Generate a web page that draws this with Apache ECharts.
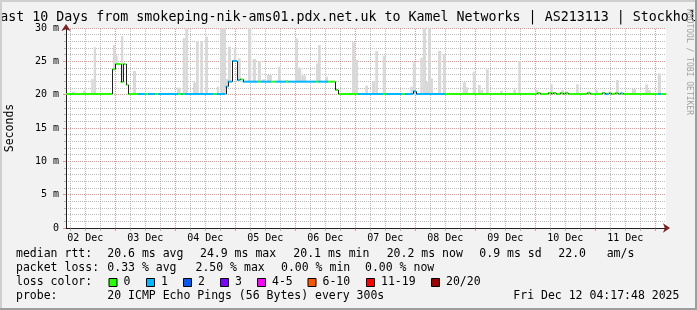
<!DOCTYPE html>
<html><head><meta charset="utf-8">
<script src="https://cdn.jsdelivr.net/npm/echarts@6/dist/echarts.min.js"></script>
<style>html,body{margin:0;padding:0;background:#f2f2f2;}#c{width:697px;height:310px;}</style>
</head><body><div id="c"></div>
<script>
// x values are hours since 2025-12-02 00:00
const startHour = 4.2967;   // Dec 02 04:17:48
const endHour = 244.2967;   // Dec 12 04:17:48
const dayLabels = ['02 Dec','03 Dec','04 Dec','05 Dec','06 Dec','07 Dec','08 Dec','09 Dec','10 Dec','11 Dec'];
const dayLabelHours = [12,36,60,84,108,132,156,180,204,228];
const yUnitLabel = ' m';

// median rtt (ms), segment start hour and packet-loss class
const medStart = [4.3,22.8,24.0,26.2,27.2,28.2,29.0,33.1,35.9,36.9,39.9,40.9,49.1,50.3,51.1,51.9,63.4,64.5,68.1,69.0,70.7,72.7,73.9,75.0,81.1,82.0,86.4,88.0,92.3,93.1,104.3,105.1,109.1,112.0,113.1,121.1,131.1,132.3,138.7,139.9,143.1,144.3,155.9,192.7,193.9,197.1,198.4,199.0,200.3,201.9,203.0,204.0,205.1,212.7,213.9,218.7,219.9,221.4,222.2,224.0,225.1,226.0,227.0,241.0,242.3];
const medValue = [20.1,23.8,24.6,21.9,24.6,21.5,20.1,20.1,20.1,20.1,20.1,20.1,20.1,20.1,20.1,20.1,20.1,20.1,21.2,21.95,25.05,22.2,22.3,21.95,21.95,21.95,21.95,21.95,21.95,21.95,21.95,21.95,21.95,20.7,20.1,20.1,20.1,20.1,20.1,20.1,20.5,20.1,20.1,20.25,20.1,20.25,20.1,20.25,20.1,20.25,20.1,20.25,20.1,20.25,20.1,20.25,20.1,20.25,20.1,20.25,20.1,20.2,20.1,20.1,20.1];
const medLoss = [0,0,0,0,0,0,0,1,0,1,0,1,0,1,0,1,0,1,1,1,1,1,0,1,0,1,0,1,0,1,0,1,0,0,0,1,0,1,0,1,1,1,0,0,0,0,0,0,0,0,0,0,0,0,0,0,1,0,0,0,0,1,0,1,0];

// smoke (spread of the pings): start hour, end hour, max rtt (ms)
const smokeStart = [6.7,11.1,14.4,15.4,23.1,24.0,26.3,31.1,48.7,51.0,52.0,55.1,56.3,58.0,60.0,64.6,66.0,68.3,69.1,71.4,73.1,77.1,79.0,81.0,82.7,84.7,89.1,92.0,96.0,97.1,98.4,104.3,105.1,108.0,118.7,120.0,124.0,126.7,128.0,131.0,142.0,143.0,146.0,147.0,148.3,149.1,150.2,153.1,155.1,163.0,164.3,167.0,169.1,170.2,172.3,178.0,183.2,185.2,192.0,198.0,202.4,204.0,208.3,213.1,216.0,221.4,224.3,230.7,236.0,237.1,241.0];
const smokeEnd = [8.0,12.3,15.4,16.3,24.0,25.0,27.2,32.3,50.2,52.0,53.1,56.3,57.4,59.1,61.1,65.6,68.3,69.1,70.3,72.4,74.2,78.4,80.3,82.3,84.0,86.7,90.3,93.1,97.1,98.4,100.3,105.1,106.2,109.1,120.0,121.1,125.1,128.0,129.1,132.3,143.0,144.3,147.0,148.3,149.1,150.2,151.1,154.4,156.3,164.3,165.1,168.3,170.2,171.2,173.4,179.0,184.3,186.2,193.1,199.0,203.4,205.1,209.4,214.2,217.1,222.4,225.4,232.3,237.1,238.2,242.3];
const smokeTop = [20.45,20.6,22.35,27.1,27.45,25.9,28.8,23.55,21.05,28.5,30.5,21.85,28.05,28.05,28.7,21.2,30.5,22.35,27.2,27.0,25.45,30.5,25.35,25.05,22.3,22.95,24.2,22.2,28.45,24.05,22.9,24.7,27.45,22.7,27.85,25.2,21.35,22.05,26.55,25.85,21.2,24.85,25.55,30.5,21.9,30.5,22.45,26.55,26.05,21.85,21.1,23.45,21.45,20.7,23.8,20.6,20.8,25.05,20.7,21.55,20.7,20.5,21.55,20.5,20.7,20.5,22.2,20.85,21.55,20.7,23.2];

// legend
const lossColors = ['#26ff00','#00b8ff','#0059ff','#7e00ff','#ff00ff','#ff5500','#ff0000','#a10000'];
const lossLabels = ['0','1','2','3','4-5','6-10','11-19','20/20'];
const rttStats = ['20.6 ms avg','24.9 ms max','20.1 ms min','20.2 ms now','0.9 ms sd','22.0','am/s'];
const lossStats = ['0.33 % avg','2.50 % max','0.00 % min','0.00 % now'];
const titleText = 'Last 10 Days from smokeping-nik-ams01.pdx.net.uk to Kamel Networks | AS213113 | Stockholm';
const probeText = '20 ICMP Echo Pings (56 Bytes) every 300s';
const dateText = 'Fri Dec 12 04:17:48 2025';

const MONO = '"DejaVu Sans Mono", monospace';
const GRIDC = 'rgba(143,143,143,0.6)';
const MGRIDC = 'rgba(222,79,79,0.6)';

function medianAt(h){
  let v = medValue[0];
  for (let i = 0; i < medStart.length; i++) { if (medStart[i] <= h) v = medValue[i]; }
  return v;
}
const medData = medStart.map((s,i)=>[s, i+1<medStart.length?medStart[i+1]:endHour, medValue[i], medLoss[i], i>0?medValue[i-1]:medValue[i]]);
const smokeData = smokeStart.map((s,i)=>[s, smokeEnd[i], medianAt(s)-0.1, smokeTop[i]]);
const vGrid = [];
for (let h = 6; h < endHour; h += 6) if (h > startHour) vGrid.push([h, h % 24 === 0 ? 1 : 0]);
const labelData = dayLabelHours.map(h=>[h,0]);

function renderVGrid(params, api){
  const h = api.value(0), major = api.value(1) === 1;
  const p0 = api.coord([h,0]), p1 = api.coord([h,30]);
  const x = Math.round(p0[0]) + 0.5;
  const col = major ? MGRIDC : GRIDC;
  return {type:'group', children:[
    {type:'line', shape:{x1:x,y1:p0[1],x2:x,y2:p1[1]}, style:{stroke:col,lineWidth:1,lineDash:[1,1]}},
    {type:'line', shape:{x1:x,y1:p0[1],x2:x,y2:p0[1]+3}, style:{stroke:col,lineWidth:1}}
  ]};
}
function renderSmoke(params, api){
  const a = api.coord([api.value(0), Math.min(api.value(3), 30)]);
  const b = api.coord([api.value(1), api.value(2)]);
  return {type:'rect', shape:{x:a[0],y:a[1],width:b[0]-a[0],height:b[1]-a[1]}, style:{fill:'#d9d9d9'}};
}
function renderMedian(params, api){
  const h0=api.value(0), h1=api.value(1), v=api.value(2), loss=api.value(3), pv=api.value(4);
  const a=api.coord([h0,v]), b=api.coord([h1,v]);
  const ch=[{type:'rect', shape:{x:a[0],y:a[1]-1,width:b[0]-a[0],height:2}, style:{fill:lossColors[loss]}}];
  if (pv !== v) {
    const q=api.coord([h0,pv]); const x=Math.round(a[0])+0.5;
    ch.push({type:'line', shape:{x1:x,y1:q[1],x2:x,y2:a[1]}, style:{stroke:'#202020',lineWidth:1}});
  }
  return {type:'group', children:ch};
}
function renderLabel(params, api){
  const p = api.coord([api.value(0), 0]);
  return {type:'text', x:p[0], y:p[1]+10, style:{text:dayLabels[params.dataIndex], font:'10px '+MONO, fill:'#000', align:'center', verticalAlign:'middle'}};
}

function txt(x, y, t, extra){
  return Object.assign({type:'text', x:x, y:y, silent:true, style:{text:t, font:'11.5px '+MONO, fill:'#000', align:'left', verticalAlign:'middle'}}, extra||{});
}
const graphics = [];
graphics.push(txt(348.5, 18, titleText, {style:{text:titleText, font:'13.3px '+MONO, fill:'#000', align:'center', verticalAlign:'middle'}}));
graphics.push(txt(10.5, 128, 'Seconds', {rotation:Math.PI/2, style:{text:'Seconds', font:'11.5px '+MONO, fill:'#000', align:'center', verticalAlign:'middle'}}));
graphics.push(txt(689, 62, 'RRDTOOL / TOBI OETIKER', {rotation:-Math.PI/2, style:{text:'RRDTOOL / TOBI OETIKER', font:'8px '+MONO, fill:'#a0a0a0', align:'center', verticalAlign:'middle'}}));
const L1=254.5, L2=268.5, L3=282.5, L4=296.5;
graphics.push(txt(16, L1, 'median rtt:'));
[107.3,200,293.3,386.7,479.3,558.3,606.7].forEach((x,i)=>graphics.push(txt(x, L1, rttStats[i])));
graphics.push(txt(16, L2, 'packet loss:'));
[107.3,195.5,281,365].forEach((x,i)=>graphics.push(txt(x, L2, lossStats[i])));
graphics.push(txt(16, L3, 'loss color:'));
[108.5,146,183,220,257,307.5,366,431].forEach((x,i)=>{
  graphics.push({type:'rect', silent:true, shape:{x:x+0.5,y:278.5,width:8,height:8}, style:{fill:lossColors[i], stroke:'#000', lineWidth:1}});
  graphics.push(txt(x+15, L3, lossLabels[i]));
});
graphics.push(txt(16, L4, 'probe:'));
graphics.push(txt(107.3, L4, probeText));
graphics.push(txt(513.3, L4, dateText));
// frame
graphics.push({type:'rect', silent:true, z:100, shape:{x:0,y:0,width:697,height:2}, style:{fill:'#cfcfcf'}});
graphics.push({type:'rect', silent:true, z:100, shape:{x:0,y:0,width:2,height:310}, style:{fill:'#cfcfcf'}});
graphics.push({type:'rect', silent:true, z:100, shape:{x:0,y:308,width:697,height:2}, style:{fill:'#9e9e9e'}});
graphics.push({type:'rect', silent:true, z:100, shape:{x:695,y:0,width:2,height:310}, style:{fill:'#9e9e9e'}});

const chart = echarts.init(document.getElementById('c'), null, {renderer:'canvas'});
chart.setOption({
  animation:false,
  backgroundColor:'#f2f2f2',
  grid:{left:66, top:28, width:600, height:200, show:true, backgroundColor:'#ffffff', borderWidth:0},
  xAxis:[
    {type:'value', min:startHour, max:endHour, position:'bottom',
     axisLine:{show:true, lineStyle:{color:'#1f1f1f', width:1}},
     axisTick:{show:false}, axisLabel:{show:false}, splitLine:{show:false}},
    {type:'value', min:startHour, max:endHour, position:'bottom',
     axisLine:{show:true, lineStyle:{color:'#801f1f', width:0}, symbol:['none','arrow'], symbolSize:[7,7], symbolOffset:[0,4]},
     axisTick:{show:false}, axisLabel:{show:false}, splitLine:{show:false}}
  ],
  yAxis:[
    {type:'value', min:0, max:30, interval:5, position:'left',
     axisLine:{show:true, lineStyle:{color:'#1f1f1f', width:1}},
     axisTick:{show:true, length:3, lineStyle:{color:MGRIDC}},
     minorTick:{show:true, splitNumber:5, length:2, lineStyle:{color:GRIDC}},
     axisLabel:{margin:7, fontFamily:'DejaVu Sans Mono', fontSize:10, color:'#000', formatter:v=>v===0?'0':v+yUnitLabel},
     splitLine:{show:true, lineStyle:{color:MGRIDC, type:[1,1]}},
     minorSplitLine:{show:true, lineStyle:{color:GRIDC, type:[1,1]}}},
    {type:'value', min:0, max:30, interval:5, position:'left',
     axisLine:{show:true, lineStyle:{color:'#801f1f', width:0}, symbol:['none','arrow'], symbolSize:[7,7], symbolOffset:[0,4]},
     axisTick:{show:false}, axisLabel:{show:false}, splitLine:{show:false}}
  ],
  graphic:{elements:graphics},
  series:[
    {type:'custom', name:'vgrid', z:1, silent:true, clip:false, renderItem:renderVGrid, encode:{x:0,y:1}, data:vGrid},
    {type:'custom', name:'smoke', z:2, silent:true, clip:true, renderItem:renderSmoke, encode:{x:[0,1], y:[2,3]}, data:smokeData},
    {type:'custom', name:'median', z:3, silent:true, clip:true, renderItem:renderMedian, encode:{x:[0,1], y:[2]}, data:medData},
    {type:'custom', name:'xlabels', z:3, silent:true, clip:false, renderItem:renderLabel, encode:{x:0,y:1}, data:labelData}
  ]
});
</script></body></html>
